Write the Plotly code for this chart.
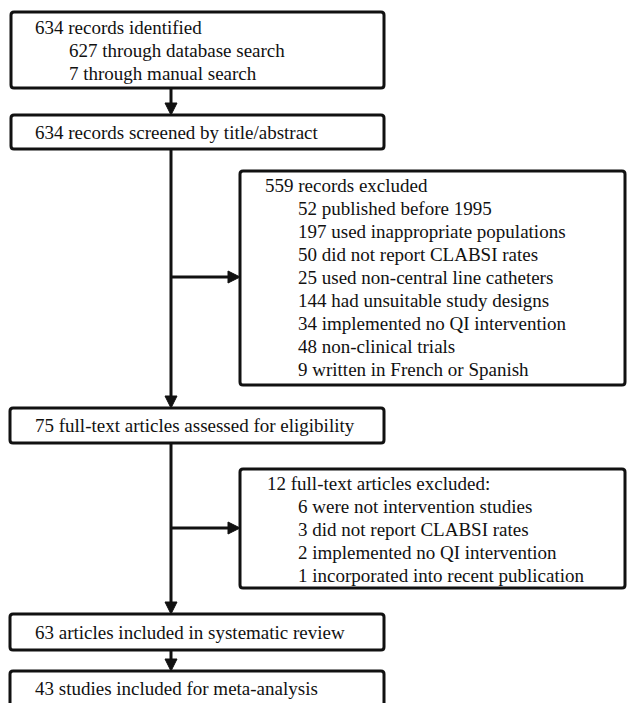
import plotly.graph_objects as go

# ---- content ----
box1_lines = ["634 records identified", "627 through database search", "7 through manual search"]
box2_lines = ["634 records screened by title/abstract"]
box3_lines = ["559 records excluded", "52 published before 1995", "197 used inappropriate populations",
              "50 did not report CLABSI rates", "25 used non-central line catheters",
              "144 had unsuitable study designs", "34 implemented no QI intervention",
              "48 non-clinical trials", "9 written in French or Spanish"]
box4_lines = ["75 full-text articles assessed for eligibility"]
box5_lines = ["12 full-text articles excluded:", "6 were not intervention studies",
              "3 did not report CLABSI rates", "2 implemented no QI intervention",
              "1 incorporated into recent publication"]
box6_lines = ["63 articles included in systematic review"]
box7_lines = ["43 studies included for meta-analysis"]

# ---- layout geometry (pixels, y down) ----
W, H = 628, 703
boxes = [
    # (lines, x0, x1, y0, y1, header_x, sub_x, first_line_y, line_step)
    (box1_lines, 11, 384, 12, 88, 33, 67, 27, 23),
    (box2_lines, 11, 384, 115, 149, 33, 67, 132, 23),
    (box3_lines, 240, 625, 171, 385, 263, 296, 185, 23.1),
    (box4_lines, 10, 384, 408, 443, 33, 67, 425, 23),
    (box5_lines, 240, 625, 469, 588, 265, 296, 483, 23),
    (box6_lines, 10, 384, 614, 650, 33, 67, 632, 23),
    (box7_lines, 10, 384, 671, 712, 33, 67, 688, 23),
]
main_x = 171
# vertical arrows: (x, y_start, y_tip)
v_arrows = [(main_x, 88, 115), (main_x, 149, 408), (main_x, 443, 614), (main_x, 650, 671)]
# horizontal arrows: (y, x_start, x_tip)
h_arrows = [(277, main_x, 240), (528, main_x, 240)]

LW = 3
COL = "#111111"
FONT = dict(family="Liberation Serif, Times New Roman, serif", size=19, color=COL)

def rounded_rect(x0, x1, y0, y1, r=3):
    return (f"M {x0+r},{y0} L {x1-r},{y0} Q {x1},{y0} {x1},{y0+r} "
            f"L {x1},{y1-r} Q {x1},{y1} {x1-r},{y1} L {x0+r},{y1} "
            f"Q {x0},{y1} {x0},{y1-r} L {x0},{y0+r} Q {x0},{y0} {x0+r},{y0} Z")

shapes = []
annotations = []
for lines, x0, x1, y0, y1, hx, sx, ly, step in boxes:
    shapes.append(dict(type="path", path=rounded_rect(x0, x1, y0, y1), xref="x", yref="y",
                       line=dict(color=COL, width=LW), fillcolor="white", layer="above"))
    for i, t in enumerate(lines):
        annotations.append(dict(x=hx if i == 0 else sx, y=ly + i * step, xref="x", yref="y",
                                text=t, showarrow=False, xanchor="left", yanchor="middle",
                                font=FONT))

AL, AH = 12, 6  # arrowhead length, half width
for x, ys, yt in v_arrows:
    shapes.append(dict(type="line", x0=x, x1=x, y0=ys, y1=yt - AL + 1, xref="x", yref="y",
                       line=dict(color=COL, width=LW)))
    shapes.append(dict(type="path", path=f"M {x-AH},{yt-AL} L {x+AH},{yt-AL} L {x},{yt} Z",
                       xref="x", yref="y", fillcolor=COL, line=dict(color=COL, width=1)))
for y, xs, xt in h_arrows:
    shapes.append(dict(type="line", x0=xs, x1=xt - AL + 1, y0=y, y1=y, xref="x", yref="y",
                       line=dict(color=COL, width=LW)))
    shapes.append(dict(type="path", path=f"M {xt-AL},{y-AH} L {xt-AL},{y+AH} L {xt},{y} Z",
                       xref="x", yref="y", fillcolor=COL, line=dict(color=COL, width=1)))

fig = go.Figure()
fig.update_layout(
    width=W, height=H, margin=dict(l=0, r=0, t=0, b=0),
    paper_bgcolor="white", plot_bgcolor="white",
    xaxis=dict(range=[0, W], visible=False, fixedrange=True),
    yaxis=dict(range=[H, 0], visible=False, fixedrange=True),
    shapes=shapes, annotations=annotations, showlegend=False,
)
fig.write_html("out.html", config={"displayModeBar": False},
               post_script="document.body.style.margin='0';document.body.style.overflow='hidden';")
